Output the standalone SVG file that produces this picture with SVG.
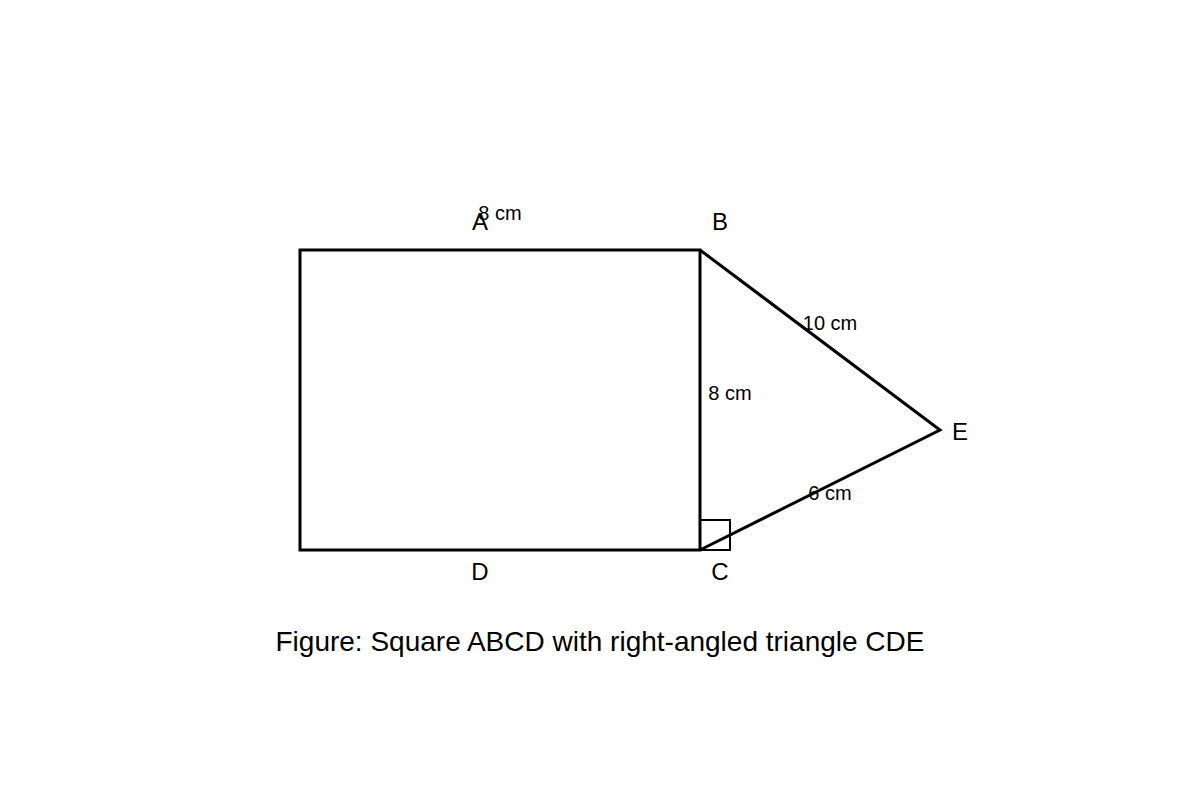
<svg xmlns="http://www.w3.org/2000/svg" width="1200" height="800" viewBox="0 0 1200 800">
<style>
.ln{fill:none;stroke:#000;stroke-width:3;stroke-linejoin:miter}
.lbl{font-family:"Liberation Sans",Arial,sans-serif;font-size:24px;fill:#000;text-anchor:middle}
.dim{font-family:"Liberation Sans",Arial,sans-serif;font-size:20px;fill:#000;text-anchor:middle}
.cap{font-family:"Liberation Sans",Arial,sans-serif;font-size:28px;fill:#000;text-anchor:middle}
</style>
<rect width="1200" height="800" fill="#fff"/>
<g id="connectors">
<rect id="square" class="ln" x="300" y="250" width="400" height="300"/>
<polyline id="triangle" class="ln" points="700,250 940,430 700,550"/>
<rect id="right-angle" x="700" y="520" width="30" height="30" fill="none" stroke="#000" stroke-width="2"/>
</g>
<g id="A"><text class="lbl" x="480" y="230">A</text></g>
<g id="B"><text class="lbl" x="720" y="230">B</text></g>
<g id="C"><text class="lbl" x="720" y="580">C</text></g>
<g id="D"><text class="lbl" x="480" y="580">D</text></g>
<g id="E"><text class="lbl" x="960" y="440">E</text></g>
<g id="dims">
<text class="dim" x="500" y="220">8 cm</text>
<text class="dim" x="830" y="330">10 cm</text>
<text class="dim" x="730" y="400">8 cm</text>
<text class="dim" x="830" y="500">6 cm</text>
</g>
<text class="cap" x="600" y="651">Figure: Square ABCD with right-angled triangle CDE</text>
</svg>
